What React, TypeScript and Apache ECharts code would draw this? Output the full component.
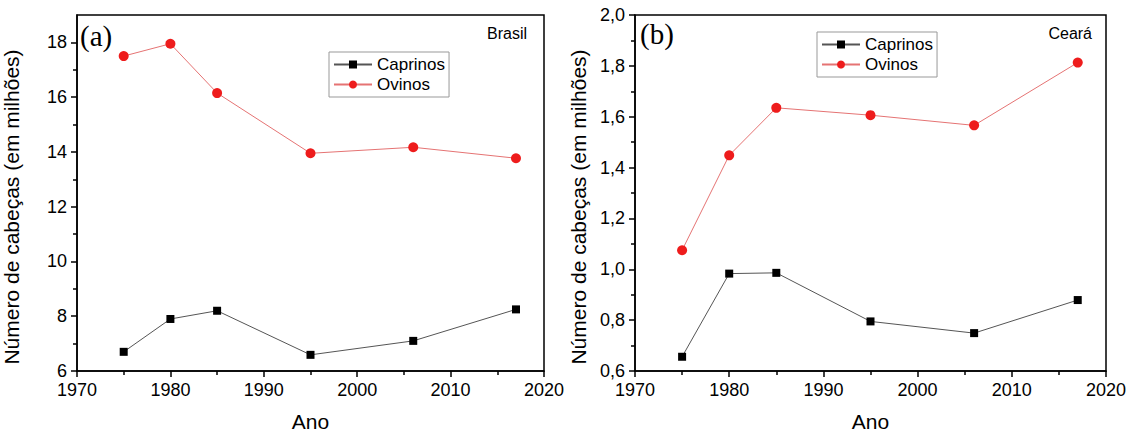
import React, { useEffect, useRef } from "react";
import * as echarts from "echarts";

// Years of the census points
const years = [1975, 1980, 1985, 1995, 2006, 2017];

// Brasil (millions of head)
const brasilCaprinos = [6.7, 7.9, 8.2, 6.59, 7.1, 8.25];
const brasilOvinos = [17.5, 17.95, 16.15, 13.95, 14.17, 13.77];

// Ceará (millions of head)
const cearaCaprinos = [0.656, 0.983, 0.986, 0.795, 0.749, 0.879];
const cearaOvinos = [1.075, 1.448, 1.635, 1.606, 1.566, 1.813];

// Axis ticks
const brasilMajorTicks = [6, 8, 10, 12, 14, 16, 18];
const brasilMinorTicks = [7, 9, 11, 13, 15, 17];

const SANS = "'Liberation Sans', Arial, sans-serif";
const SERIF = "'Liberation Serif', 'Times New Roman', serif";

const pairs = (vals: number[]) => years.map((y, i) => [y, vals[i]]);

const capStyle = {
  symbol: "rect",
  symbolSize: 8,
  itemStyle: { color: "#000" },
  lineStyle: { color: "#555", width: 1 },
};
const oviStyle = {
  symbol: "circle",
  symbolSize: 10,
  itemStyle: { color: "#ee1c1c" },
  lineStyle: { color: "#e57373", width: 1 },
};

const xAxisBase = (gridIndex: number) => ({
  type: "value",
  gridIndex,
  min: 1970,
  max: 2020,
  interval: 10,
  name: "Ano",
  nameLocation: "middle",
  nameGap: 40,
  nameTextStyle: { fontSize: 21, color: "#000", fontFamily: SANS },
  axisLine: { show: true, lineStyle: { color: "#000", width: 1.5 } },
  axisTick: { show: true, length: 6, lineStyle: { color: "#000", width: 1.5 } },
  minorTick: { show: true, splitNumber: 2, length: 4, lineStyle: { color: "#000", width: 1.5 } },
  axisLabel: {
    fontSize: 18,
    color: "#000",
    fontFamily: SANS,
    margin: 10,
    formatter: (v: number) => String(v),
  },
  splitLine: { show: false },
  minorSplitLine: { show: false },
});

const yName = "Número de cabeças (em milhões)";
const yNameStyle = { fontSize: 21, color: "#000", fontFamily: SANS, padding: [0, 28, 0, 0] };

export default function App() {
  const ref = useRef<HTMLDivElement>(null);

  useEffect(() => {
    if (!ref.current) return;
    const chart = echarts.init(ref.current, null, { renderer: "svg" });

    const legendBase = {
      orient: "vertical",
      itemWidth: 38,
      itemHeight: 10,
      itemGap: 3,
      padding: [4, 4, 4, 4],
      borderColor: "#999",
      borderWidth: 1,
      backgroundColor: "#fff",
      textStyle: { fontSize: 17, color: "#000", fontFamily: SANS, lineHeight: 17 },
      data: ["Caprinos", "Ovinos"],
      selectedMode: false,
    };

    chart.setOption({
      animation: false,
      backgroundColor: "#fff",
      grid: [
        { left: 75, top: 15, width: 469, height: 358, show: true, borderColor: "#000", borderWidth: 1.5, backgroundColor: "transparent" },
        { left: 635, top: 15, width: 471, height: 359, show: true, borderColor: "#000", borderWidth: 1.5, backgroundColor: "transparent" },
      ],
      legend: [
        { ...legendBase, left: 329, top: 52 },
        { ...legendBase, left: 817, top: 32 },
      ],
      xAxis: [xAxisBase(0), xAxisBase(1)],
      yAxis: [
        {
          type: "value",
          gridIndex: 0,
          position: "left",
          min: 6,
          max: 19,
          name: yName,
          nameLocation: "middle",
          nameGap: 55,
          nameTextStyle: yNameStyle,
          axisLine: { show: true, lineStyle: { color: "#000", width: 1.5 } },
          axisTick: { show: true, customValues: brasilMajorTicks, length: 6, lineStyle: { color: "#000", width: 1.5 } },
          axisLabel: { customValues: brasilMajorTicks, fontSize: 18, color: "#000", fontFamily: SANS, margin: 10 },
          splitLine: { show: false },
        },
        {
          type: "value",
          gridIndex: 0,
          position: "left",
          offset: 0,
          min: 6,
          max: 19,
          axisLine: { show: false },
          axisTick: { show: true, customValues: brasilMinorTicks, length: 4, lineStyle: { color: "#000", width: 1.5 } },
          axisLabel: { show: false },
          splitLine: { show: false },
        },
        {
          type: "value",
          gridIndex: 1,
          position: "left",
          min: 0.6,
          max: 2.0,
          interval: 0.2,
          name: yName,
          nameLocation: "middle",
          nameGap: 46,
          nameTextStyle: yNameStyle,
          axisLine: { show: true, lineStyle: { color: "#000", width: 1.5 } },
          axisTick: { show: true, length: 6, lineStyle: { color: "#000", width: 1.5 } },
          minorTick: { show: true, splitNumber: 2, length: 4, lineStyle: { color: "#000", width: 1.5 } },
          axisLabel: {
            fontSize: 18,
            color: "#000",
            fontFamily: SANS,
            margin: 10,
            formatter: (v: number) => v.toFixed(1).replace(".", ","),
          },
          splitLine: { show: false },
          minorSplitLine: { show: false },
        },
      ],
      series: [
        { name: "Caprinos", type: "line", xAxisIndex: 0, yAxisIndex: 0, data: pairs(brasilCaprinos), ...capStyle },
        { name: "Ovinos", type: "line", xAxisIndex: 0, yAxisIndex: 0, data: pairs(brasilOvinos), ...oviStyle },
        { name: "Caprinos", type: "line", xAxisIndex: 1, yAxisIndex: 2, data: pairs(cearaCaprinos), ...capStyle },
        { name: "Ovinos", type: "line", xAxisIndex: 1, yAxisIndex: 2, data: pairs(cearaOvinos), ...oviStyle },
      ],
      graphic: [
        { type: "text", left: 80, top: 21, style: { text: "(a)", fontSize: 29, fontFamily: SERIF, fill: "#000" } },
        { type: "text", left: 640, top: 19, style: { text: "(b)", fontSize: 29, fontFamily: SERIF, fill: "#000" } },
        { type: "text", right: 1130 - 527, top: 25, style: { text: "Brasil", fontSize: 16, fontFamily: SANS, fill: "#000" } },
        { type: "text", right: 1130 - 1092, top: 25, style: { text: "Ceará", fontSize: 16, fontFamily: SANS, fill: "#000" } },
      ],
    });

    return () => chart.dispose();
  }, []);

  return (
    <div
      ref={ref}
      style={{ position: "fixed", left: 0, top: 0, width: 1130, height: 437, background: "#fff" }}
    />
  );
}
